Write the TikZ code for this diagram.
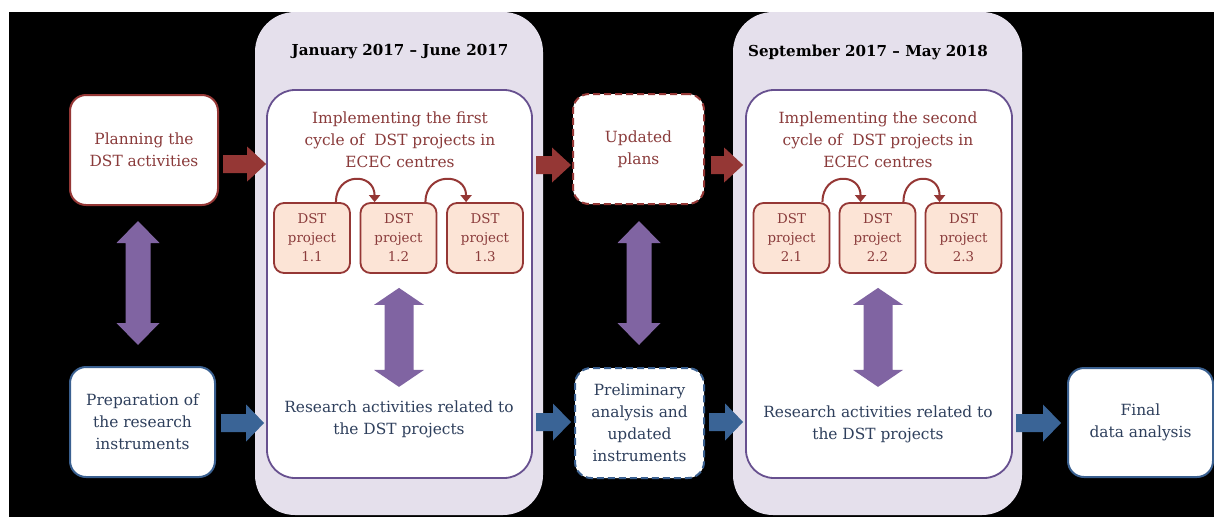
\documentclass[tikz,border=0pt]{standalone}
\usepackage{fontspec}
\setmainfont{DejaVu Serif}
\usetikzlibrary{calc,arrows.meta}
\definecolor{redD}{HTML}{953735}
\definecolor{redT}{HTML}{8A3B3B}
\definecolor{blueB}{HTML}{3A6090}
\definecolor{blueA}{HTML}{3A6496}
\definecolor{blueT}{HTML}{2E3F5C}
\definecolor{purA}{HTML}{8064A2}
\definecolor{lav}{HTML}{E5E0EC}
\definecolor{purB}{HTML}{67508F}
\definecolor{peach}{HTML}{FCE4D6}
\newcommand\HArrow[6]{\fill[#6] ($(#1)+(0,-#3)$) -- ($(#2)+(-#5,-#3)$) -- ($(#2)+(-#5,-#4)$) -- (#2) -- ($(#2)+(-#5,#4)$) -- ($(#2)+(-#5,#3)$) -- ($(#1)+(0,#3)$) -- cycle;}
\newcommand\VDArrow[6]{\fill[#6] (#1) -- ($(#1)+(#4,#5)$) -- ($(#1)+(#3,#5)$) -- ($(#2)+(#3,-#5)$) -- ($(#2)+(#4,-#5)$) -- (#2) -- ($(#2)+(-#4,-#5)$) -- ($(#2)+(-#3,-#5)$) -- ($(#1)+(-#3,#5)$) -- ($(#1)+(-#4,#5)$) -- cycle;}
\begin{document}
\begin{tikzpicture}[x=1pt,y=-1pt,
  txt/.style={align=center,inner sep=0pt,font=\fontsize{15.4}{22}\selectfont},
  sidebox/.style={draw,line width=2pt,fill=white,rounded corners=16pt,minimum width=#1,minimum height=110pt,txt},
  panel/.style={fill=lav,rounded corners=40pt,minimum width=288pt,minimum height=503pt},
  innerbox/.style={draw=purB,line width=1.8pt,fill=white,rounded corners=28pt,minimum width=265pt,minimum height=388pt},
  projbox/.style={draw=redD,line width=1.8pt,fill=peach,rounded corners=10pt,minimum width=76pt,minimum height=70pt,align=center,inner sep=0pt,text=redT,font=\fontsize{13.4}{19}\selectfont},
  titletxt/.style={font=\bfseries\fontsize{15.1}{20}\selectfont,text=black,inner sep=0pt},
  loop/.style={draw=redD,line width=2pt,-{Triangle[width=11pt,length=7pt]}},
  dashbox/.style={dash pattern=on 7pt off 4pt}
]
\useasboundingbox (0,0) rectangle (1214,517);
\fill[white] (0,0) rectangle (1214,517);
\fill[black] (9,12) rectangle (1214,517);

% panels
\node[panel] (panel1) at (399,263.5) {};
\node[panel,minimum width=289pt] (panel2) at (877.5,263.5) {};
\node[titletxt] (title1) at (400,52) {January 2017 – June 2017};
\node[titletxt] (title2) at (868,52) {September 2017 – May 2018};
\node[innerbox] (inner1) at (399.5,284) {};
\node[innerbox,minimum width=266pt] (inner2) at (879,284) {};

% headings
\node[txt,text=redT] (head1) at (400,140) {Implementing the first\\cycle of~ DST projects in\\ECEC centres};
\node[txt,text=redT] (head2) at (878,140) {Implementing the second\\cycle of~ DST projects in\\ECEC centres};

% project boxes
\node[projbox] (p11) at (312,238) {DST\\project\\1.1};
\node[projbox] (p12) at (398.5,238) {DST\\project\\1.2};
\node[projbox] (p13) at (485,238) {DST\\project\\1.3};
\node[projbox] (p21) at (791.5,238) {DST\\project\\2.1};
\node[projbox] (p22) at (877.5,238) {DST\\project\\2.2};
\node[projbox] (p23) at (963.5,238) {DST\\project\\2.3};

\draw[loop] ($(p11.north east)+(-15,0)$) .. controls +(0,-30) and +(0,-30) .. ($(p12.north west)+(15,0)$);
\draw[loop] ($(p12.north east)+(-12,0)$) .. controls +(0,-30) and +(0,-30) .. ($(p13.north west)+(20,0)$);
\draw[loop] ($(p21.north east)+(-8,0)$) .. controls +(0,-30) and +(0,-30) .. ($(p22.north west)+(22,0)$);
\draw[loop] ($(p22.north east)+(-13,0)$) .. controls +(0,-30) and +(0,-30) .. ($(p23.north west)+(15,0)$);

% research texts
\node[txt,text=blueT] (res1) at (399,419) {Research activities related to\\the DST projects};
\node[txt,text=blueT] (res2) at (878,424) {Research activities related to\\the DST projects};

% side boxes
\node[sidebox=148pt,draw=redD,text=redT] (plan) at (144,150) {Planning the\\DST activities};
\node[sidebox=145pt,draw=blueB,text=blueT] (prep) at (142.5,422) {Preparation of\\the research\\instruments};
\node[sidebox=131pt,draw=redD,text=redT,dashbox] (upd) at (638.5,149) {Updated\\plans};
\node[sidebox=129pt,draw=blueB,text=blueT,dashbox] (prelim) at (639.5,423) {Preliminary\\analysis and\\updated\\instruments};
\node[sidebox=145pt,draw=blueB,text=blueT,minimum height=109pt] (final) at (1140.5,422.5) {Final\\data analysis};

% purple double arrows
\coordinate (v1t) at ($(plan.south)+(-6,15)$);
\coordinate (v1b) at ($(prep.north)+(-4.5,-21)$);
\coordinate (v2t) at ($(upd.south)+(0.5,16)$);
\coordinate (v2b) at ($(prelim.north)+(-0.5,-22)$);
\coordinate (v3t) at ($(p12.south)+(0.5,14)$);
\coordinate (v3b) at ($(p12.south)+(0.5,113)$);
\coordinate (v4t) at ($(p22.south)+(0.5,14)$);
\coordinate (v4b) at ($(p22.south)+(0.5,113)$);
\VDArrow{v1t}{v1b}{12.5}{21.5}{22}{purA}
\VDArrow{v2t}{v2b}{12.5}{21.5}{22}{purA}
\VDArrow{v3t}{v3b}{14.5}{25}{17}{purA}
\VDArrow{v4t}{v4b}{14.5}{25}{17}{purA}

% red flow arrows
\coordinate (r1s) at ($(plan.east)+(4,14)$);
\coordinate (r1e) at (inner1.west |- r1s);
\coordinate (r2s) at ($(upd.west)+(-36,16)$);
\coordinate (r2e) at ($(upd.west)+(-1,16)$);
\coordinate (r3s) at ($(upd.east)+(6,16)$);
\coordinate (r3e) at ($(inner2.west |- r3s)+(-2,0)$);
\HArrow{r1s}{r1e}{9}{17.5}{19}{redD}
\HArrow{r2s}{r2e}{9}{17.5}{19}{redD}
\HArrow{r3s}{r3e}{9}{17.5}{19}{redD}

% blue flow arrows
\coordinate (b1s) at ($(prep.east)+(5,1)$);
\coordinate (b1e) at ($(inner1.west |- b1s)+(-2,0)$);
\coordinate (b2s) at ($(prelim.west)+(-38,-1)$);
\coordinate (b2e) at ($(prelim.west)+(-3,-1)$);
\coordinate (b3s) at ($(prelim.east)+(4,-1)$);
\coordinate (b3e) at ($(inner2.west |- b3s)+(-2,0)$);
\coordinate (b4s) at ($(final.west)+(-51,0.5)$);
\coordinate (b4e) at ($(final.west)+(-6,0.5)$);
\HArrow{b1s}{b1e}{9}{18.5}{18}{blueA}
\HArrow{b2s}{b2e}{9}{18.5}{18}{blueA}
\HArrow{b3s}{b3e}{9}{18.5}{18}{blueA}
\HArrow{b4s}{b4e}{9}{18.5}{18}{blueA}
\end{tikzpicture}
\end{document}
